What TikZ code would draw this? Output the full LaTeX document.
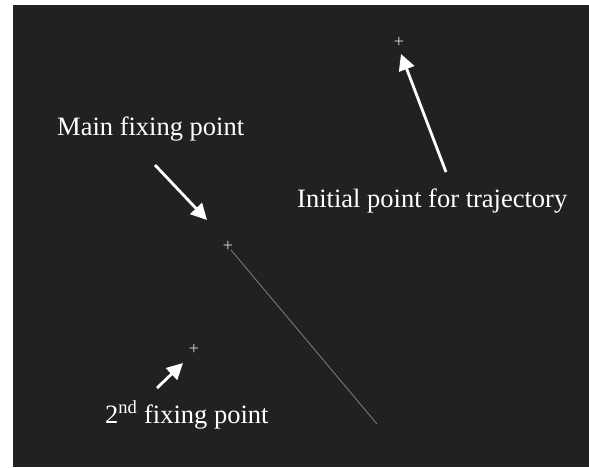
\documentclass[tikz,border=0pt]{standalone}
\usepackage{fontspec}
\setmainfont{Liberation Serif}
\usetikzlibrary{arrows.meta}
\definecolor{bgdark}{HTML}{212121}
\definecolor{trajgrey}{HTML}{808080}
\tikzset{
  lbl/.style={text=white, font=\fontsize{26.5}{30}\selectfont, inner sep=0pt, anchor=base west},
  pointer/.style={draw=white, line width=2.8pt, -{Triangle[length=16pt,width=16pt]}},
  plusmark/.style={text=white!85!black, font=\fontsize{18}{18}\selectfont, inner sep=0pt},
  traj/.style={draw=trajgrey, line width=0.8pt}
}
\begin{document}
\begin{tikzpicture}[x=1pt,y=-1pt]
\useasboundingbox (0,0) rectangle (589,467);
\fill[white] (0,0) rectangle (589,467);
\fill[bgdark] (13,5) rectangle (589,467);
% points
\node[plusmark] (init) at (399,42) {+};
\node[plusmark] (mainfix) at (228,246) {+};
\node[plusmark] (second) at (194,349) {+};
\coordinate (trajstart) at (231,250);
\coordinate (trajend) at (377,424);
\draw[traj] (trajstart) -- (trajend);
% labels
\node[lbl] (mainlbl) at (57,135) {Main fixing point};
\node[lbl] (initlbl) at (297,207) {Initial point for trajectory};
\node[lbl] (seclbl) at (105,423) {2\textsuperscript{nd} fixing point};
% arrow anchors
\coordinate (a1s) at (155,165);
\coordinate (a1e) at (207,220);
\coordinate (a2s) at (446,172);
\coordinate (a2e) at (401,54);
\coordinate (a3s) at (157,388);
\coordinate (a3e) at (183,363);
\draw[pointer] (a1s) -- (a1e);
\draw[pointer] (a2s) -- (a2e);
\draw[pointer] (a3s) -- (a3e);
\end{tikzpicture}
\end{document}
